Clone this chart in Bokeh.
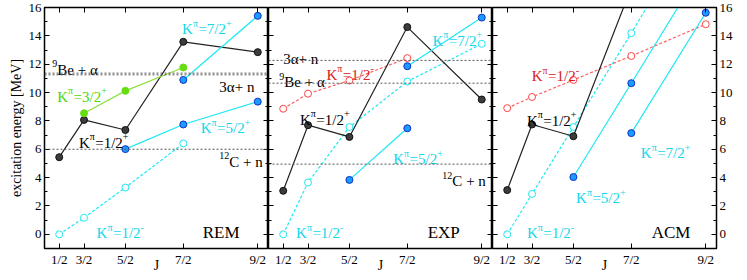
from fractions import Fraction
from bokeh.plotting import figure
from bokeh.layouts import row
from bokeh.models import Range1d, LinearAxis, FixedTicker, Span, CustomLabelingPolicy
from bokeh.core.properties import value
from bokeh.embed import file_html
from bokeh.resources import INLINE

# ---------------- data ----------------
J_TICKS = ["1/2", "3/2", "5/2", "7/2", "9/2"]
Y_MAJOR = [0, 2, 4, 6, 8, 10, 12, 14, 16]
Y_MINOR = [-1, 0, 1, 2, 3, 4, 5, 6, 7, 8, 9, 10, 11, 12, 13, 14, 15, 16]

# REM
REM_K12P_J = ["1/2", "3/2", "5/2", "7/2", "9/2"]
REM_K12P_E = [5.44, 8.07, 7.36, 13.58, 12.85]
REM_K32P_J = ["3/2", "5/2", "7/2"]
REM_K32P_E = [8.54, 10.12, 11.77]
REM_K52P_J = ["5/2", "7/2", "9/2"]
REM_K52P_E = [6.01, 7.75, 9.36]
REM_K72P_J = ["7/2", "9/2"]
REM_K72P_E = [10.89, 15.41]
REM_K12M_J = ["1/2", "3/2", "5/2", "7/2"]
REM_K12M_E = [0.0, 1.17, 3.30, 6.41]
REM_THRESH = [11.37, 11.25, 6.00]   # 9Be+a, 3a+n, 12C+n

# EXP
EXP_K12P_J = ["1/2", "3/2", "5/2", "7/2", "9/2"]
EXP_K12P_E = [3.07, 7.70, 6.87, 14.62, 9.51]
EXP_K12MR_J = ["1/2", "3/2", "5/2", "7/2"]
EXP_K12MR_E = [8.86, 9.92, 10.85, 12.43]
EXP_K12M_J = ["1/2", "3/2", "5/2", "7/2", "9/2"]
EXP_K12M_E = [0.0, 3.66, 7.57, 10.78, 13.44]
EXP_K52P_J = ["5/2", "7/2"]
EXP_K52P_E = [3.84, 7.48]
EXP_K72P_J = ["7/2", "9/2"]
EXP_K72P_E = [11.86, 15.29]
EXP_THRESH = [12.27, 10.66, 4.95]   # 3a+n, 9Be+a, 12C+n

# ACM
ACM_K12P_J = ["1/2", "3/2", "5/2", "7/2"]
ACM_K12P_E = [3.12, 7.75, 6.92, 17.4]
ACM_K12MR_J = ["1/2", "3/2", "5/2", "7/2", "9/2"]
ACM_K12MR_E = [8.90, 9.69, 10.89, 12.58, 14.82]
ACM_K12M_J = ["1/2", "3/2", "5/2", "7/2", "9/2"]
ACM_K12M_E = [0.0, 2.85, 7.57, 14.19, 23.0]
ACM_K52P_J = ["5/2", "7/2", "9/2"]
ACM_K52P_E = [4.04, 10.66, 19.2]
ACM_K72P_J = ["7/2", "9/2"]
ACM_K72P_E = [7.14, 15.63]

# ---------------- styles ----------------
FONT = "Liberation Serif"
CYAN_LINE = "#1ee8f2"
CYAN_TEXT = "#12d6ea"
RED_TEXT = "#d42020"
STYLES = {
    "black": dict(line="#222222", fill="#3c3c3c", mline="#111111", dash="solid", lw=1.2),
    "green": dict(line="#8ee040", fill="#66dd10", mline="#66dd10", dash="solid", lw=1.2),
    "blue": dict(line=CYAN_LINE, fill="#1a9cff", mline="#1030c0", dash="solid", lw=1.2),
    "copen": dict(line=CYAN_LINE, fill="white", mline=CYAN_LINE, dash="3 2", lw=1.2),
    "ropen": dict(line="#ff6060", fill="white", mline="#ff4444", dash="3 2", lw=1.2),
}

# approximate Times/Liberation Serif advance widths (em)
W = {"K": .722, "=": .564, "/": .278, "+": .564, "-": .333, "B": .667, "e": .444,
     " ": .25, "C": .667, "n": .5, "α": .53, "π": .55}


def tw(s, fs):
    return sum(W.get(c, .5) for c in s) * fs


def jj(s):
    j = float(Fraction(s))
    return j * (j + 1)


XT = [jj(s) for s in J_TICKS]
NO_LABELS = CustomLabelingPolicy(code="return new Set()")


def make_fig(left_labels, right_labels):
    p = figure(frame_width=224, frame_height=241,
               x_range=Range1d(-1.03, 26.05), y_range=Range1d(-1, 16),
               output_backend="svg", toolbar_location=None,
               x_axis_location=None, y_axis_location=None,
               min_border_left=0, min_border_right=0,
               min_border_bottom=0, min_border_top=7)
    p.xgrid.visible = False
    p.ygrid.visible = False
    p.outline_line_color = "black"
    p.outline_line_width = 1.5
    p.background_fill_color = "white"
    p.border_fill_color = "white"

    xb = LinearAxis(ticker=FixedTicker(ticks=XT, minor_ticks=[]),
                    major_label_overrides={t: s for t, s in zip(XT, J_TICKS)},
                    axis_label="J")
    xa = LinearAxis(ticker=FixedTicker(ticks=XT, minor_ticks=[]))
    yl = LinearAxis(ticker=FixedTicker(ticks=Y_MAJOR, minor_ticks=Y_MINOR))
    yr = LinearAxis(ticker=FixedTicker(ticks=Y_MAJOR, minor_ticks=Y_MINOR))
    for ax in (xb, xa, yl, yr):
        ax.major_tick_in = 5
        ax.major_tick_out = 0
        ax.minor_tick_in = 3
        ax.minor_tick_out = 0
        ax.axis_line_color = "black"
        ax.major_tick_line_color = "black"
        ax.minor_tick_line_color = "black"
        ax.major_label_text_font = FONT
        ax.major_label_text_font_size = "13px"
        ax.major_label_text_color = "black"
        ax.axis_label_text_font = FONT
        ax.axis_label_text_font_style = "normal"
        ax.axis_label_text_font_size = "14px"
        ax.axis_label_text_color = "black"
        ax.major_label_standoff = 3
    xb.axis_label_standoff = -12
    for ax, show in ((xa, False), (yl, left_labels), (yr, right_labels)):
        if not show:
            ax.major_label_policy = NO_LABELS
            ax.major_label_text_font_size = "0px"
            ax.major_label_standoff = 0
    if left_labels:
        yl.axis_label = "excitation energy [MeV]"
        yl.axis_label_standoff = 2
    p.add_layout(xb, "below")
    p.add_layout(xa, "above")
    p.add_layout(yl, "left")
    p.add_layout(yr, "right")
    return p


def band(p, js, es, sty):
    s = STYLES[sty]
    xs = [jj(j) for j in js]
    p.line(xs, es, line_color=s["line"], line_width=s["lw"], line_dash=s["dash"])
    p.scatter(xs, es, size=7, fill_color=s["fill"], line_color=s["mline"], line_width=1)


def label(p, x, y, parts, color, fs=15, sfs=10):
    off = 0.0
    for txt, sup in parts:
        size = sfs if sup else fs
        p.text(x=[x], y=[y], text=[txt], x_offset=off, y_offset=-6 if sup else 0,
               text_font=value(FONT), text_font_size=f"{size}px", text_color=color,
               text_align="left", text_baseline="alphabetic")
        off += tw(txt, size)


def kpi(rest, sign):
    return [("K", False), ("π", True), ("=" + rest, False), (sign, True)]


def thresh(p, locs):
    for loc in locs:
        p.add_layout(Span(location=loc, dimension="width", line_color="#555555",
                          line_dash="2 2", line_width=1))


BE = [("9", True), ("Be + α", False)]
CN = [("12", True), ("C + n", False)]
AN = [("3α+ n", False)]

# ---------------- REM ----------------
p1 = make_fig(True, False)
p1.min_border_left = 44
thresh(p1, REM_THRESH)
band(p1, REM_K12M_J, REM_K12M_E, "copen")
band(p1, REM_K12P_J, REM_K12P_E, "black")
band(p1, REM_K32P_J, REM_K32P_E, "green")
band(p1, REM_K52P_J, REM_K52P_E, "blue")
band(p1, REM_K72P_J, REM_K72P_E, "blue")
label(p1, 15.60, 14.46, kpi("7/2", "+"), CYAN_TEXT)
label(p1, -0.08, 11.62, BE, "black")
label(p1, 20.11, 10.40, AN, "black")
label(p1, 0.51, 9.72, kpi("3/2", "+"), "#4cd800")
label(p1, 3.13, 6.46, kpi("1/2", "+"), "black")
label(p1, 17.85, 7.48, kpi("5/2", "+"), CYAN_TEXT)
label(p1, 20.11, 5.12, CN, "black")
label(p1, 5.27, 0.09, kpi("1/2", "-"), CYAN_TEXT)
label(p1, 18.09, 0.16, [("REM", False)], "black", fs=17)

# ---------------- EXP ----------------
p2 = make_fig(False, False)
thresh(p2, EXP_THRESH)
band(p2, EXP_K12M_J, EXP_K12M_E, "copen")
band(p2, EXP_K12MR_J, EXP_K12MR_E, "ropen")
band(p2, EXP_K12P_J, EXP_K12P_E, "black")
band(p2, EXP_K52P_J, EXP_K52P_E, "blue")
band(p2, EXP_K72P_J, EXP_K72P_E, "blue")
label(p2, 0.75, 12.36, AN, "black")
label(p2, 0.28, 10.72, BE, "black")
label(p2, 5.98, 11.27, kpi("1/2", "-"), RED_TEXT)
label(p2, 18.80, 13.65, kpi("7/2", "+"), CYAN_TEXT)
label(p2, 2.77, 8.09, kpi("1/2", "+"), "black")
label(p2, 14.05, 5.31, kpi("5/2", "+"), CYAN_TEXT)
label(p2, 19.99, 3.75, CN, "black")
label(p2, 2.30, 0.09, kpi("1/2", "-"), CYAN_TEXT)
label(p2, 18.21, 0.16, [("EXP", False)], "black", fs=17)

# ---------------- ACM ----------------
p3 = make_fig(False, True)
band(p3, ACM_K12M_J, ACM_K12M_E, "copen")
band(p3, ACM_K12MR_J, ACM_K12MR_E, "ropen")
band(p3, ACM_K12P_J, ACM_K12P_E, "black")
band(p3, ACM_K52P_J, ACM_K52P_E, "blue")
band(p3, ACM_K72P_J, ACM_K72P_E, "blue")
label(p3, 3.72, 11.14, kpi("1/2", "-"), RED_TEXT)
label(p3, 3.13, 8.02, kpi("1/2", "+"), "black")
label(p3, 16.90, 5.72, kpi("7/2", "+"), CYAN_TEXT)
label(p3, 9.07, 2.53, kpi("5/2", "+"), CYAN_TEXT)
label(p3, 3.13, 0.09, kpi("1/2", "-"), CYAN_TEXT)
label(p3, 18.21, 0.16, [("ACM", False)], "black", fs=17)

layout = row(p1, p2, p3)
open("out.html", "w").write(file_html(layout, INLINE))
